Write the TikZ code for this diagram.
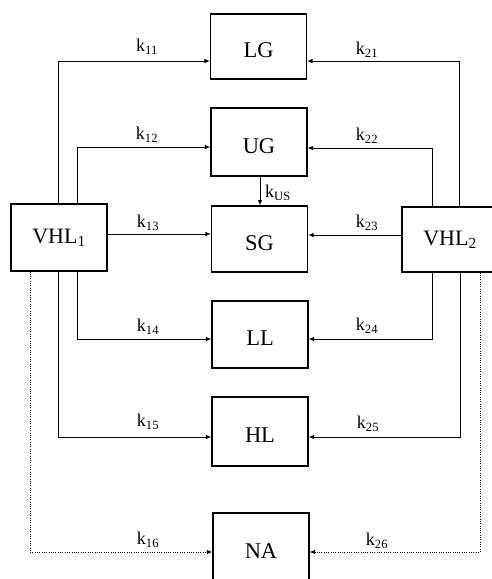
\documentclass[tikz,border=0pt]{standalone}
\usepackage{fontspec}
\setmainfont{Liberation Serif}
\usetikzlibrary{arrows.meta}
\begin{document}
\begin{tikzpicture}[x=1pt,y=-1pt,
  box/.style={draw,line width=1.1pt,minimum width=96pt,inner sep=0pt,
    font=\fontsize{22.5}{26}\selectfont,text height=22pt,text depth=0pt},
  vhl/.style={draw,line width=1.1pt,minimum width=96pt,inner sep=0pt,
    font=\fontsize{22}{26}\selectfont},
  conn/.style={line width=1pt,-{Latex[length=5.5pt,width=4.5pt]}},
  dotconn/.style={conn,dash pattern=on 1pt off 1.3pt},
  lab/.style={font=\fontsize{18}{21}\selectfont,inner sep=0pt}]
\useasboundingbox (0,0) rectangle (491,579);
% boxes
\node[box,minimum height=65pt] (LG) at (258.5,46.5) {LG};
\node[box,minimum height=68pt] (UG) at (259,142) {UG};
\node[box,minimum height=66pt] (SG) at (259.5,239) {SG};
\node[box,minimum height=67pt] (LL) at (260,334.5) {LL};
\node[box,minimum height=69pt] (HL) at (260,431.5) {HL};
\node[box,minimum height=68pt] (NA) at (261,547) {NA};
\node[vhl,minimum height=67pt] (VHL1) at (59,237.5) {VHL\textsubscript{1}};
\node[vhl,minimum height=65pt] (VHL2) at (450,239.5) {VHL\textsubscript{2}};
% bend coordinates
\coordinate (a11) at (58,61);
\coordinate (a12) at (77,147);
\coordinate (a13) at (0,234);
\coordinate (a14) at (77,339);
\coordinate (a15) at (58,437);
\coordinate (a16) at (30,552);
\coordinate (a21) at (459,61);
\coordinate (a22) at (432,148);
\coordinate (a23) at (0,235);
\coordinate (a24) at (432,339);
\coordinate (a25) at (460,437);
\coordinate (a26) at (480,552);
\coordinate (aus) at (260,0);
% connectors from VHL1
\draw[conn] (VHL1.north -| a11) |- (LG.west |- a11);
\draw[conn] (VHL1.north -| a12) |- (UG.west |- a12);
\draw[conn] (VHL1.east |- a13) -- (SG.west |- a13);
\draw[conn] (VHL1.south -| a14) |- (LL.west |- a14);
\draw[conn] (VHL1.south -| a15) |- (HL.west |- a15);
\draw[dotconn] (VHL1.south -| a16) |- (NA.west |- a16);
% connectors from VHL2
\draw[conn] (VHL2.north -| a21) |- (LG.east |- a21);
\draw[conn] (VHL2.north -| a22) |- (UG.east |- a22);
\draw[conn] (VHL2.west |- a23) -- (SG.east |- a23);
\draw[conn] (VHL2.south -| a24) |- (LL.east |- a24);
\draw[conn] (VHL2.south -| a25) |- (HL.east |- a25);
\draw[dotconn] (VHL2.south -| a26) |- (NA.east |- a26);
% UG -> SG
\draw[conn] (UG.south -| aus) -- (SG.north -| aus);
% labels
\node[lab] (l11) at (147,47) {k\textsubscript{11}};
\node[lab] (l12) at (147,135) {k\textsubscript{12}};
\node[lab] (l13) at (148,223) {k\textsubscript{13}};
\node[lab] (l14) at (148,327) {k\textsubscript{14}};
\node[lab] (l15) at (148,422) {k\textsubscript{15}};
\node[lab] (l16) at (148,540) {k\textsubscript{16}};
\node[lab] (l21) at (367,50) {k\textsubscript{21}};
\node[lab] (l22) at (367,136) {k\textsubscript{22}};
\node[lab] (l23) at (367,223) {k\textsubscript{23}};
\node[lab] (l24) at (367,326) {k\textsubscript{24}};
\node[lab] (l25) at (368,424) {k\textsubscript{25}};
\node[lab] (l26) at (377,541) {k\textsubscript{26}};
\node[lab] (lus) at (278,193) {k\textsubscript{US}};
\end{tikzpicture}
\end{document}
